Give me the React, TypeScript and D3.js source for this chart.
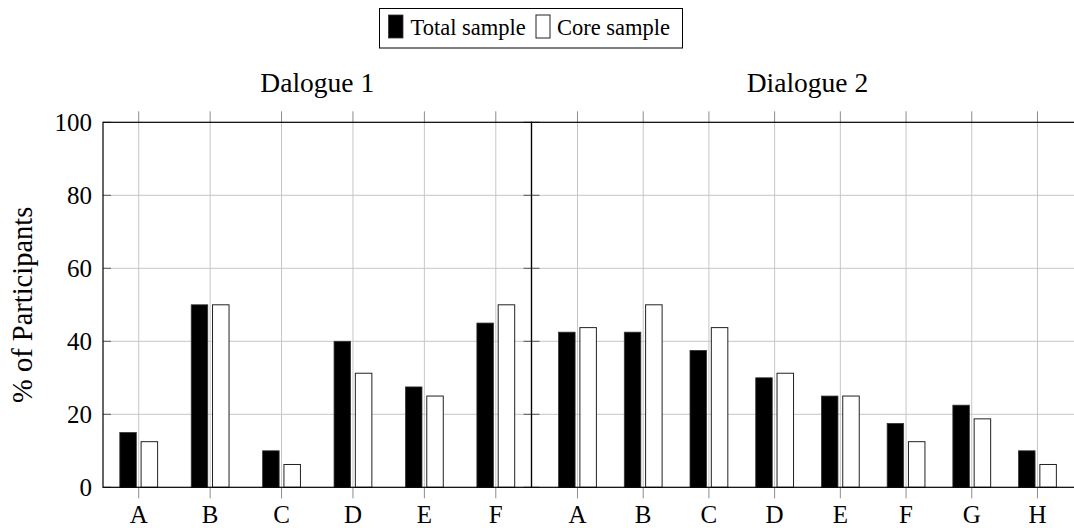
import React from "react";
import * as d3 from "d3";

const categories1 = ["A", "B", "C", "D", "E", "F"];
const total1 = [15, 50, 10, 40, 27.5, 45];
const core1 = [12.5, 50, 6.25, 31.25, 25, 50];

const categories2 = ["A", "B", "C", "D", "E", "F", "G", "H"];
const total2 = [42.5, 42.5, 37.5, 30, 25, 17.5, 22.5, 10];
const core2 = [43.75, 50, 43.75, 31.25, 25, 12.5, 18.75, 6.25];

const yTicks = [0, 20, 40, 60, 80, 100];
const panelTitles = ["Dalogue 1", "Dialogue 2"];
const seriesNames = ["Total sample", "Core sample"];
const yLabel = "% of Participants";

const W = 1074;
const H = 528;
const FONT = "'Liberation Serif', 'Times New Roman', serif";

const yTop = 122.3;
const yBottom = 487.3;
const leftX0 = 103;
const leftX1 = 531.5;
const step2 = 65.71;
const rightX0 = 531.5;
const rightX1 = rightX0 + step2 * (7 + 2 * 0.7);

const barW = 16.5;
const barGap = 4.8;

const y = d3.scaleLinear().domain([0, 100]).range([yBottom, yTop]);

type PanelProps = {
  cats: string[];
  total: number[];
  core: number[];
  x0: number;
  x1: number;
  title: string;
};

function Panel({ cats, total, core, x0, x1, title }: PanelProps) {
  const pad = 0.1 * (cats.length - 1);
  const x = d3.scalePoint<string>().domain(cats).range([x0, x1]).padding(pad);
  const gridColor = "#c6c6c6";
  const tickColor = "#8c8c8c";
  return (
    <g>
      {yTicks.filter((t) => t > 0 && t < 100).map((t) => (
        <line key={"hg" + t} x1={x0} x2={x1} y1={y(t)} y2={y(t)} stroke={gridColor} strokeWidth={1} />
      ))}
      {cats.map((c) => (
        <g key={"vg" + c}>
          <line x1={x(c)} x2={x(c)} y1={yTop} y2={yBottom} stroke={gridColor} strokeWidth={1} />
          <line x1={x(c)} x2={x(c)} y1={yTop - 11} y2={yTop} stroke={tickColor} strokeWidth={1} />
          <line x1={x(c)} x2={x(c)} y1={yBottom} y2={yBottom + 11} stroke={tickColor} strokeWidth={1} />
        </g>
      ))}
      {yTicks.map((t) => (
        <g key={"yt" + t}>
          <line x1={x0} x2={x0 + 8} y1={y(t)} y2={y(t)} stroke="#555" strokeWidth={1} />
          <line x1={x1 - 8} x2={x1} y1={y(t)} y2={y(t)} stroke="#555" strokeWidth={1} />
        </g>
      ))}
      {cats.map((c, i) => (
        <g key={"b" + c}>
          <rect
            x={(x(c) as number) - barGap / 2 - barW}
            y={y(total[i])}
            width={barW}
            height={yBottom - y(total[i])}
            fill="#000"
            stroke="#333"
            strokeWidth={0.8}
          />
          <rect
            x={(x(c) as number) + barGap / 2}
            y={y(core[i])}
            width={barW}
            height={yBottom - y(core[i])}
            fill="#fff"
            stroke="#222"
            strokeWidth={1}
          />
        </g>
      ))}
      <rect x={x0} y={yTop} width={x1 - x0} height={yBottom - yTop} fill="none" stroke="#000" strokeWidth={1.2} />
      {cats.map((c) => (
        <text key={"xl" + c} x={x(c)} y={523} textAnchor="middle" fontFamily={FONT} fontSize={25} fill="#000">
          {c}
        </text>
      ))}
      <text x={(x0 + x1) / 2} y={92} textAnchor="middle" fontFamily={FONT} fontSize={27.5} fill="#000">
        {title}
      </text>
    </g>
  );
}

export default function App() {
  return (
    <svg width={W} height={H} style={{ display: "block", position: "absolute", left: 0, top: 0, background: "#fff" }}>
      <rect x={0} y={0} width={W} height={H} fill="#fff" />
      <Panel cats={categories1} total={total1} core={core1} x0={leftX0} x1={leftX1} title={panelTitles[0]} />
      <Panel cats={categories2} total={total2} core={core2} x0={rightX0} x1={rightX1} title={panelTitles[1]} />
      {yTicks.map((t) => (
        <text key={"yl" + t} x={92} y={y(t)} dy="0.35em" textAnchor="end" fontFamily={FONT} fontSize={25} fill="#000">
          {t}
        </text>
      ))}
      <text
        transform={`translate(32, ${(yTop + yBottom) / 2}) rotate(-90)`}
        textAnchor="middle"
        fontFamily={FONT}
        fontSize={28.5}
        fill="#000"
      >
        {yLabel}
      </text>
      <g>
        <rect x={379.5} y={8.5} width={303} height={39.5} fill="#fff" stroke="#000" strokeWidth={1} />
        <rect x={388.5} y={15} width={14.5} height={23} fill="#000" stroke="#333" strokeWidth={0.8} />
        <text x={410.5} y={35} fontFamily={FONT} fontSize={22.5} fill="#000">
          {seriesNames[0]}
        </text>
        <rect x={536} y={15} width={14} height={23} fill="#fff" stroke="#222" strokeWidth={1} />
        <text x={557} y={35} fontFamily={FONT} fontSize={22.5} fill="#000">
          {seriesNames[1]}
        </text>
      </g>
    </svg>
  );
}
